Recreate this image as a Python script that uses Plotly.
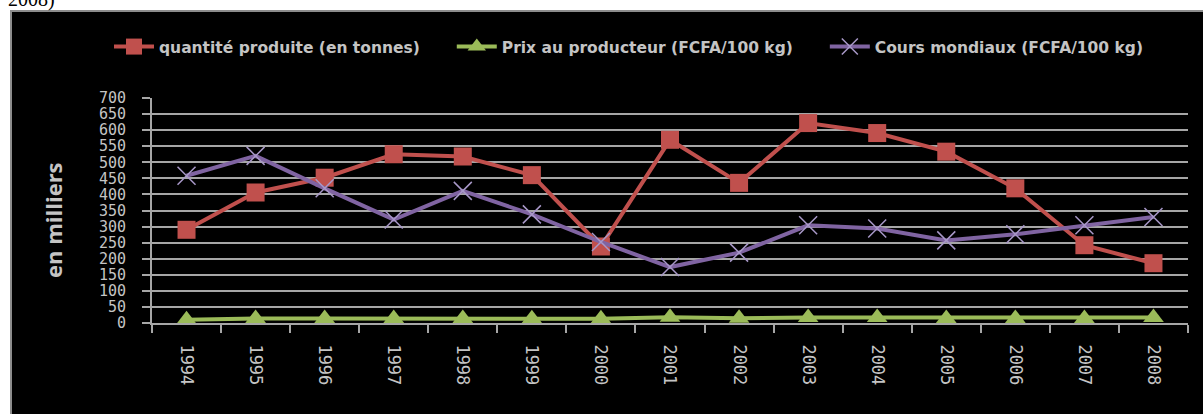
import plotly.graph_objects as go

years = [str(y) for y in range(1994, 2009)]
quantite = [290, 406, 452, 525, 518, 460, 238, 570, 436, 622, 591, 533, 419, 242, 186]
prix_producteur = [10, 14, 14, 14, 14, 13, 13, 18, 15, 17, 17, 14, 14, 14, 17]
cours_mondiaux = [458, 520, 419, 322, 411, 338, 252, 174, 219, 304, 294, 257, 276, 304, 330]

y_ticks = list(range(0, 701, 50))

TEXT_GREY = "#c4c4c4"
GRID_GREY = "#a6a6a6"
PAD = "\u00a0" * 5  # keeps the wide gaps between legend entries

# plot area in pixels: x 152..1188, y 98..323
PLOT_L, PLOT_R, PLOT_T, PLOT_B = 152, 1188, 98, 323
W, H = 1203, 414


def px_x(x):
    return (x - PLOT_L) / (PLOT_R - PLOT_L)


def px_y(y):
    return (PLOT_B - y) / (PLOT_B - PLOT_T)


fig = go.Figure()

fig.add_trace(
    go.Scatter(
        x=years,
        y=quantite,
        name="quantité produite (en tonnes)" + PAD,
        mode="lines+markers",
        line=dict(color="#C0504D", width=4),
        marker=dict(symbol="square", size=18, color="#C0504D"),
    )
)
fig.add_trace(
    go.Scatter(
        x=years,
        y=prix_producteur,
        name="Prix au producteur (FCFA/100 kg)" + PAD,
        mode="lines+markers",
        line=dict(color="#9BBB59", width=4),
        marker=dict(symbol="triangle-up", size=18, color="#9BBB59"),
    )
)
fig.add_trace(
    go.Scatter(
        x=years,
        y=cours_mondiaux,
        name="Cours mondiaux (FCFA/100 kg)",
        mode="lines+markers",
        line=dict(color="#8064A2", width=4),
        marker=dict(symbol="x-thin", size=18, line=dict(color="#a898c8", width=1.5)),
    )
)

# black chart box with grey border
fig.add_shape(
    type="rect",
    xref="paper",
    yref="paper",
    x0=px_x(11),
    x1=px_x(W + 5),
    y0=px_y(H + 5),
    y1=px_y(11),
    fillcolor="black",
    line=dict(color="#8c8c8c", width=2),
    layer="below",
)

# cut-off caption at the very top
fig.add_annotation(
    text="2008)",
    xref="paper",
    yref="paper",
    x=px_x(6),
    y=px_y(13),
    xanchor="left",
    yanchor="bottom",
    showarrow=False,
    font=dict(family="Liberation Serif", size=20, color="black"),
)

# y axis title, sits a bit below the plot centre like the original
fig.add_annotation(
    text="en milliers",
    xref="paper",
    yref="paper",
    x=px_x(53),
    y=px_y(220),
    xanchor="center",
    yanchor="middle",
    textangle=-90,
    showarrow=False,
    font=dict(family="Open Sans", size=22, color=TEXT_GREY, weight="bold"),
)

fig.update_layout(
    width=W,
    height=H,
    margin=dict(l=PLOT_L, r=W - PLOT_R, t=PLOT_T, b=H - PLOT_B, autoexpand=False),
    paper_bgcolor="white",
    plot_bgcolor="rgba(0,0,0,0)",
    showlegend=True,
    legend=dict(
        orientation="h",
        x=px_x(109),
        y=px_y(47),
        xanchor="left",
        yanchor="middle",
        bgcolor="rgba(0,0,0,0)",
        font=dict(family="DejaVu Sans", size=15.5, color=TEXT_GREY, weight="bold"),
        itemwidth=40,
    ),
)

fig.update_xaxes(
    type="category",
    range=[-0.5, len(years) - 0.5],
    showgrid=False,
    showline=True,
    linecolor=GRID_GREY,
    linewidth=2,
    ticks="outside",
    tickson="boundaries",
    ticklen=8,
    tickwidth=2,
    tickcolor=GRID_GREY,
    tickangle=90,
    tickfont=dict(family="DejaVu Sans Mono", size=17, color=TEXT_GREY),
    ticklabelstandoff=16,
    zeroline=False,
)

fig.update_yaxes(
    range=[0, 700],
    tickvals=y_ticks,
    showgrid=True,
    gridcolor=GRID_GREY,
    gridwidth=2,
    showline=True,
    linecolor=GRID_GREY,
    linewidth=2,
    ticks="outside",
    ticklen=8,
    tickwidth=2,
    tickcolor=GRID_GREY,
    tickfont=dict(family="DejaVu Sans Mono", size=15, color=TEXT_GREY),
    ticklabelstandoff=13,
    zeroline=False,
    automargin=False,
)

fig.write_html(
    "out.html",
    config={"displayModeBar": False},
    post_script="document.body.style.margin='0';document.body.style.overflow='hidden';",
)
